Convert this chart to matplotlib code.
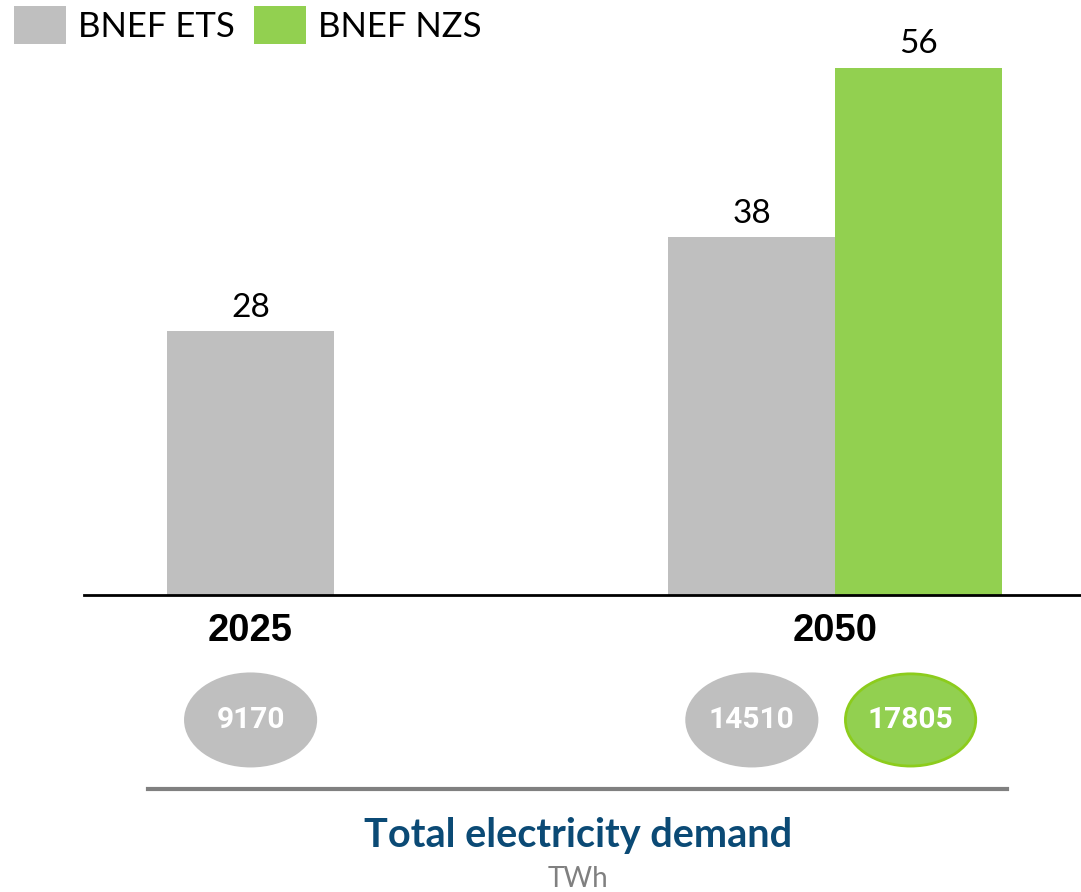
import matplotlib
matplotlib.use('Agg')
import matplotlib.pyplot as plt
from matplotlib.patches import Ellipse, Patch
from matplotlib.lines import Line2D
import matplotlib.transforms as mtransforms

# Chart data
years = ['2025', '2050']
series = ['BNEF ETS', 'BNEF NZS']
bar_pos = [0, 3, 4]            # 2025 ETS, 2050 ETS, 2050 NZS
bar_series = ['BNEF ETS', 'BNEF ETS', 'BNEF NZS']
bar_values = [28, 38, 56]
demand_twh = [9170, 14510, 17805]
year_pos = [0, 3.5]

gray = '#bfbfbf'
green = '#92d050'
colors = {'BNEF ETS': gray, 'BNEF NZS': green}

W, H = 1081, 892
fig = plt.figure(figsize=(W / 100, H / 100), dpi=100)
ax = fig.add_axes([84 / W, 1 - 595 / H, (W - 84) / W, 595 / H])

ax.bar(bar_pos, bar_values, width=1.0, color=[colors[s] for s in bar_series])
for x, v in zip(bar_pos, bar_values):
    ax.annotate(str(v), (x, v), xytext=(0, 6), textcoords='offset points',
                ha='center', va='bottom', fontsize=24, family='Lato')

ax.set_xlim(-0.997, 4.97)
ax.set_ylim(0, 63.2)
for s in ['top', 'right', 'left']:
    ax.spines[s].set_visible(False)
ax.spines['bottom'].set_linewidth(2)
ax.set_yticks([])
ax.set_xticks(year_pos)
ax.set_xticklabels(years, fontsize=27.5, fontweight='bold', family='Liberation Sans')
ax.tick_params(axis='x', length=0, pad=13)

# demand ellipses under the bars (NZS one sits a little left of its bar)
ell_shift = [0, 0, -0.05]
trans = mtransforms.blended_transform_factory(ax.transData, ax.transAxes)
for x, dx, s, d in zip(bar_pos, ell_shift, bar_series, demand_twh):
    edge = '#8ccc1c' if s == 'BNEF NZS' else gray
    ax.add_patch(Ellipse((x + dx, -0.21), 0.78, 0.155, transform=trans,
                         facecolor=colors[s], edgecolor=edge, lw=2, clip_on=False))
    ax.text(x + dx, -0.21, str(d), transform=trans, ha='center', va='center',
            color='white', fontsize=21.5, fontweight='bold', family='Roboto')

# separator line and titles
fig.add_artist(Line2D([148 / W, 1007 / W], [1 - 789 / H, 1 - 789 / H],
                      transform=fig.transFigure, color='#808080', lw=3))
fig.text(578 / W, 1 - 836 / H, 'Total electricity demand', ha='center', va='center',
         fontsize=28.5, fontweight='bold', color='#0b4a75', family='Lato')
fig.text(578 / W, 1 - 879 / H, 'TWh', ha='center', va='center',
         fontsize=20, color='#808080', family='Lato')

handles = [Patch(facecolor=colors[s], edgecolor='none') for s in series]
fig.legend(handles, series, loc='upper left', bbox_to_anchor=(14 / W, 1 - 6 / H),
           ncol=2, frameon=False, borderpad=0, borderaxespad=0,
           handlelength=1.5, handleheight=1.3, handletextpad=0.35,
           columnspacing=0.55, prop={'family': 'Lato', 'size': 25})

fig.savefig('out.png', dpi=100)
